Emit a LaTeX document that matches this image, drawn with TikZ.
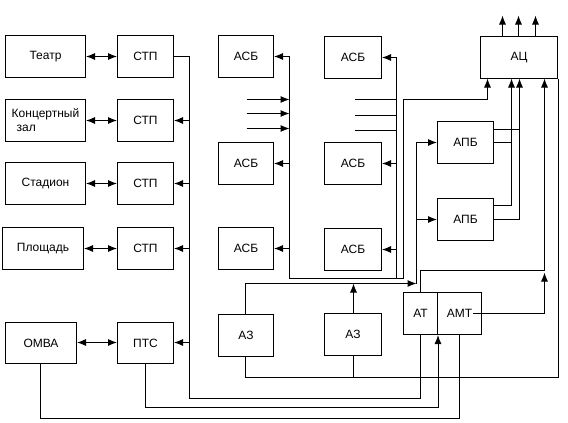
\documentclass[tikz,border=0pt]{standalone}
\usepackage{fontspec}
\setmainfont{Liberation Sans}
\usetikzlibrary{arrows.meta,calc}
\begin{document}
\begin{tikzpicture}[x=1pt,y=-1pt,
  box/.style={draw,line width=1pt,rectangle,inner sep=0pt,minimum height=42pt,font=\fontsize{12}{14}\selectfont},
  ln/.style={line width=1pt},
  arr/.style={ln,-{Latex[length=9pt,width=7pt]}},
  dbl/.style={ln,{Latex[length=9pt,width=7pt]}-{Latex[length=9pt,width=7pt]}}]
\useasboundingbox (-0.5,-0.5) rectangle (567.5,422.5);
% left column
\node[box,minimum width=80pt] (teatr) at (45,56) {Театр};
\node[box,minimum width=80pt,align=left] (konc) at (45,120) {Концертный\\\hspace*{5pt}зал};
\node[box,minimum width=80pt] (stad) at (45,183) {Стадион};
\node[box,minimum width=81pt] (plos) at (42.5,248) {Площадь};
\node[box,minimum width=71pt,minimum height=41pt] (omva) at (40.5,342.5) {ОМВА};
% STP column
\node[box,minimum width=56pt] (stp1) at (145,56) {СТП};
\node[box,minimum width=56pt] (stp2) at (145,120) {СТП};
\node[box,minimum width=56pt] (stp3) at (145,183) {СТП};
\node[box,minimum width=56pt] (stp4) at (145,248) {СТП};
\node[box,minimum width=56pt,minimum height=41pt] (pts) at (145,342.5) {ПТС};
% ASB
\node[box,minimum width=55pt] (asb1) at (245.5,56) {АСБ};
\node[box,minimum width=55pt] (asb2) at (245.5,163) {АСБ};
\node[box,minimum width=55pt] (asb3) at (245.5,248) {АСБ};
\node[box,minimum width=57pt] (asb4) at (352.5,57) {АСБ};
\node[box,minimum width=57pt] (asb5) at (352.5,163) {АСБ};
\node[box,minimum width=57pt] (asb6) at (352.5,249) {АСБ};
% AZ
\node[box,minimum width=55pt] (az1) at (245.5,335) {АЗ};
\node[box,minimum width=57pt] (az2) at (352.5,334) {АЗ};
% AT / AMT
\node[box,minimum width=34pt] (at) at (420,313) {АТ};
\node[box,minimum width=44pt] (amt) at (459,313) {АМТ};
% APB, AC
\node[box,minimum width=56pt] (apb1) at (465,142) {АПБ};
\node[box,minimum width=56pt] (apb2) at (465,219) {АПБ};
\node[box,minimum width=77pt] (ac) at (518.5,57) {АЦ};
\coordinate (bx) at (189,0);
\coordinate (lb) at (289,0);
\coordinate (rb) at (396,0);
% double arrows
\draw[dbl] (teatr) -- (stp1);
\draw[dbl] (konc) -- (stp2);
\draw[dbl] (stad) -- (stp3);
\draw[dbl] (plos) -- (stp4);
\draw[dbl] (omva.east |- 0,342) -- (pts.west |- 0,342);
% STP bus
\draw[ln] (stp1.east) -- (stp1.east -| bx) -- (189,398) -| (at.south);
\draw[arr] (stp2.east -| bx) -- (stp2.east);
\draw[arr] (stp3.east -| bx) -- (stp3.east);
\draw[arr] (stp4.east -| bx) -- (stp4.east);
\draw[arr] (189,342) -- (pts.east |- 0,342);
% PTS and OMVA to AT/AMT
\draw[arr] (pts.south) -- (145,407) -| (at.south east);
\draw[ln] (omva.south -| 40,0) -- (40,418) -| (amt.south);
% ASB buses
\draw[ln] (289,56) -- (289,278) -- (403,278);
\draw[ln] (396,57) -- (396,278);
\draw[arr] (asb1.east -| lb) -- (asb1.east);
\draw[arr] (asb2.east -| lb) -- (asb2.east);
\draw[arr] (asb3.east -| lb) -- (asb3.east);
\draw[arr] (asb4.east -| rb) -- (asb4.east);
\draw[arr] (asb5.east -| rb) -- (asb5.east);
\draw[arr] (asb6.east -| rb) -- (asb6.east);
\draw[arr] (246,99) -- (289,99);
\draw[arr] (246,113) -- (289,113);
\draw[arr] (246,128) -- (289,128);
\draw[ln] (354,99) -- (396,99);
\draw[ln] (354,115) -- (396,115);
\draw[ln] (354,130) -- (396,130);
\draw[arr] (403,278) -- (403,99) -- (487,99) -- (487,78);
% AZ
\draw[arr] (az1.north -| 245,0) |- (416,283);
\draw[arr] (az2.north -| 353,0) -- (353,283);
\draw[arr] (416,283) |- (apb1.west);
\draw[arr] (apb2.west -| 416,0) -- (apb2.west);
\draw[ln] (az1.south -| 245,0) -- (245,377) -| (ac.south east);
\draw[ln] (az2.south -| 353,0) -- (353,377);
% AT / AMT to AC
\draw[ln] (at.north) |- (544,270);
\draw[arr] ([xshift=13pt]amt.center) -| (544,272);
\draw[arr] (544,270) -- (544,78);
% APB outputs
\draw[arr] (493,219) -| (519,78);
\draw[ln] (493,129) -- (519,129);
\draw[arr] (493,205) -| (511,78);
\draw[ln] (493,142) -- (511,142);
% AC outputs
\draw[arr] (502,36) -- (502,15);
\draw[arr] (518,36) -- (518,15);
\draw[arr] (535,36) -- (535,15);
\end{tikzpicture}
\end{document}
